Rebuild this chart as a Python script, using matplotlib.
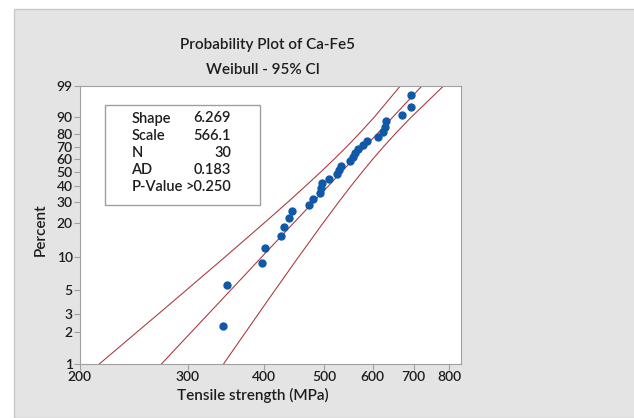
import numpy as np
import matplotlib
matplotlib.use("Agg")
import matplotlib.pyplot as plt
from matplotlib.patches import Rectangle

# tensile strength, sorted (MPa)
strength = [343, 348, 397, 401, 426, 430, 438, 444, 473, 480,
            493, 494, 496, 510, 526, 530, 534, 551, 557, 562,
            569, 578, 588, 612, 625, 629, 631, 669, 693, 694]
# median rank plotting positions (percent)
percent = [2.30, 5.59, 8.88, 12.17, 15.46, 18.75, 22.04, 25.33, 28.62, 31.91,
           35.20, 38.49, 41.78, 45.07, 48.36, 51.64, 54.93, 58.22, 61.51, 64.80,
           68.09, 71.38, 74.67, 77.96, 81.25, 84.54, 87.83, 91.12, 94.41, 97.70]

# fit line and 95% CI bounds, read at the percent ticks
ci_pct = [1, 2, 3, 5, 10, 20, 30, 40, 50, 60, 70, 80, 90, 99]
fit_x = [271.9, 303.9, 324.5, 352.6, 395.5, 445.8, 480.5, 508.8, 534.1, 558.3, 583.2, 610.7, 646.6, 722.0]
lower_x = [215.4, 247.8, 269.1, 298.6, 344.5, 399.1, 436.8, 467.3, 494.2, 519.3, 544.3, 570.7, 603.3, 665.8]
upper_x = [343.2, 372.7, 391.3, 416.4, 454.1, 498.0, 528.5, 553.9, 577.3, 600.3, 624.9, 653.5, 692.9, 782.9]

yticks = [1, 2, 3, 5, 10, 20, 30, 40, 50, 60, 70, 80, 90, 99]
xticks = [200, 300, 400, 500, 600, 700, 800]

stats_names = ["Shape", "Scale", "N", "AD", "P-Value"]
stats_vals = ["6.269", "566.1", "30", "0.183", ">0.250"]

plt.rcParams['font.family'] = ['Lato', 'DejaVu Sans']
txt_c = '#1e1e1e'
wt = 'semibold'


def fwd(p):
    p = np.clip(np.asarray(p, dtype=float), 1e-6, 99.9999)
    return np.log(-np.log(1 - p / 100.0))


def inv(z):
    return 100.0 * (1 - np.exp(-np.exp(z)))


fig = plt.figure(figsize=(6.34, 4.18), dpi=100)
fig.patch.set_facecolor('white')
fig.patches.append(Rectangle((14 / 634, 0), 1, 409 / 418, transform=fig.transFigure,
                             facecolor='#e4e4e4', edgecolor='#c8c8c8', lw=1, zorder=-5))

ax = fig.add_axes([79.5 / 634, 54 / 418, 381.5 / 634, 278 / 418])
ax.set_zorder(2)
ax.set_xscale('log')
ax.set_yscale('function', functions=(fwd, inv))

line_c = '#a83338'
ax.plot(fit_x, ci_pct, color=line_c, lw=0.75)
ax.plot(lower_x, ci_pct, color=line_c, lw=0.75)
ax.plot(upper_x, ci_pct, color=line_c, lw=0.75)
ax.plot(strength, percent, 'o', color='#0f59a8', ms=5, mec='#0f59a8', zorder=3)

ax.set_xlim(200, 836)
ax.set_ylim(1, 99)
ax.set_xticks(xticks)
ax.set_xticklabels([str(v) for v in xticks], fontweight=wt)
ax.xaxis.set_minor_locator(matplotlib.ticker.NullLocator())
ax.set_yticks(yticks)
ax.set_yticklabels([str(v) for v in yticks], fontweight=wt)
ax.yaxis.set_minor_locator(matplotlib.ticker.NullLocator())

for s in ax.spines.values():
    s.set_color('#a0a0a0')
ax.tick_params(colors='#a0a0a0', labelcolor=txt_c, labelsize=10, length=4, width=0.8, pad=1)

ax.set_xlabel("Tensile strength (MPa)", fontsize=11, color=txt_c, fontweight=wt)
ax.xaxis.set_label_coords((253 - 79.5) / 381.5, -(388 - 364) / 278)
ax.set_ylabel("Percent", fontsize=11, color=txt_c, fontweight=wt)
ax.yaxis.set_label_coords(-(79.5 - 48) / 381.5, (364 - 230) / 278)

fig.text(268 / 634, 1 - 45 / 418, "Probability Plot of Ca-Fe5", ha='center', va='center',
         fontsize=11, color=txt_c, fontweight=wt)
fig.text(263 / 634, 1 - 70 / 418, "Weibull - 95% CI", ha='center', va='center',
         fontsize=11, color=txt_c, fontweight=wt)

# statistics box
ax.add_patch(Rectangle((105 / 634, 1 - 205 / 418), 155 / 634, 100 / 418,
                       transform=fig.transFigure, facecolor='white',
                       edgecolor='#a0a0a0', lw=1, zorder=5))
for i, (n, v) in enumerate(zip(stats_names, stats_vals)):
    yy = 1 - (118.5 + i * 17.2) / 418
    ax.text(131.5 / 634, yy, n, transform=fig.transFigure, ha='left', va='center',
            fontsize=10.5, color=txt_c, zorder=6, fontweight=wt)
    ax.text(231 / 634, yy, v, transform=fig.transFigure, ha='right', va='center',
            fontsize=10.5, color=txt_c, zorder=6, fontweight=wt)

fig.savefig("out.png", dpi=100)
